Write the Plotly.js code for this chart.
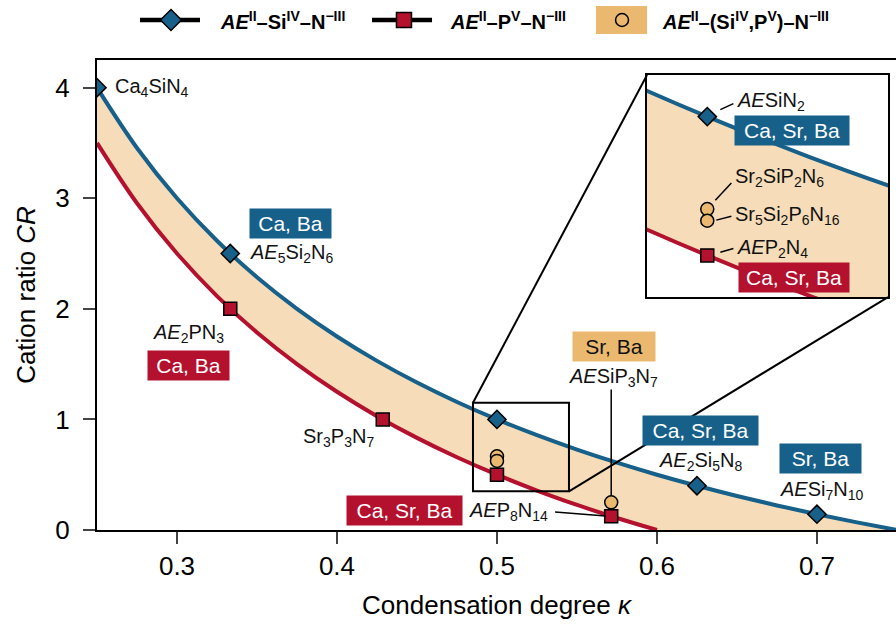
<!DOCTYPE html>
<html><head><meta charset="utf-8">
<script src="https://cdn.plot.ly/plotly-3.0.1.min.js"></script>
<style>html,body{margin:0;padding:0;background:#fff}</style>
</head><body><div id="chart" style="width:896px;height:626px"></div>
<script>
const kappaSi = [0.25,0.275,0.3,0.325,0.35,0.375,0.4,0.425,0.45,0.475,0.5,0.525,0.55,0.575,0.6,0.625,0.65,0.675,0.7,0.725,0.75];
const crSi    = [4,3.4545,3,2.6154,2.2857,2,1.75,1.5294,1.3333,1.1579,1,0.8571,0.7273,0.6087,0.5,0.4,0.3077,0.2222,0.1429,0.069,0];
const kappaP  = [0.25,0.275,0.3,0.325,0.35,0.375,0.4,0.425,0.45,0.475,0.5,0.525,0.55,0.575,0.6];
const crP     = [3.5,2.9545,2.5,2.1154,1.7857,1.5,1.25,1.0294,0.8333,0.6579,0.5,0.3571,0.2273,0.1087,0];

// Known compounds
const siK  = [0.25, 0.3333, 0.5, 0.625, 0.7];
const siCR = [4, 2.5, 1, 0.4, 0.1429];
const pK   = [0.3333, 0.4286, 0.5, 0.5714];
const pCR  = [2, 1, 0.5, 0.125];
const mixK  = [0.5, 0.5, 0.5714];
const mixCR = [0.6667, 0.625, 0.25];

const legendNames = [
  '<b><i>AE</i><sup>II</sup>–Si<sup>IV</sup>–N<sup>−III</sup></b>',
  '<b><i>AE</i><sup>II</sup>–P<sup>V</sup>–N<sup>−III</sup></b>',
  '<b><i>AE</i><sup>II</sup>–(Si<sup>IV</sup>,P<sup>V</sup>)–N<sup>−III</sup></b>'
];

const BLUE = '#16608a', RED = '#b3112e', BAND = '#f6dcb8', ORANGE = '#eab96f';
const FONT = 'Liberation Sans, Arial, sans-serif';
const XR = [0.25, 0.7494], YR = [0, 4.25];
const INSET_X = [0.485, 0.545], INSET_Y = [0.35, 1.15];
const INSET_DX = [0.6884, 0.99], INSET_DY = [0.4957, 0.9681];
const px = x => (x - XR[0]) / (XR[1] - XR[0]);
const py = y => (y - YR[0]) / (YR[1] - YR[0]);

function traces(xa, ya) {
  const base = {xaxis: xa, yaxis: ya, showlegend: false, hoverinfo: 'skip'};
  return [
    Object.assign({}, base, {x: kappaSi.concat(kappaP.slice().reverse()), y: crSi.concat(crP.slice().reverse()),
      mode: 'lines', fill: 'toself', fillcolor: BAND, line: {width: 0}}),
    Object.assign({}, base, {x: kappaSi, y: crSi, mode: 'lines', line: {color: BLUE, width: 4, shape: 'spline'}}),
    Object.assign({}, base, {x: kappaP, y: crP, mode: 'lines', line: {color: RED, width: 4, shape: 'spline'}}),
    Object.assign({}, base, {x: mixK, y: mixCR, mode: 'markers', marker: {symbol: 'circle', size: 13, color: ORANGE, line: {color: '#000', width: 1.5}}}),
    Object.assign({}, base, {x: pK, y: pCR, mode: 'markers', marker: {symbol: 'square', size: 13, color: RED, line: {color: '#000', width: 1.5}}}),
    Object.assign({}, base, {x: siK, y: siCR, mode: 'markers', marker: {symbol: 'diamond', size: 14, color: BLUE, line: {color: '#000', width: 1.5}}})
  ];
}
const data = traces('x', 'y').concat(traces('x2', 'y2'));

function label(x, y, text, ref, anchor) {
  return {x: x, y: y, xref: ref ? 'x2' : 'x', yref: ref ? 'y2' : 'y', text: text, showarrow: false,
    xanchor: anchor || 'center', yanchor: 'middle', font: {family: FONT, size: 20, color: '#111'}};
}
function box(x, y, text, color, w, ref) {
  return {x: x, y: y, xref: ref ? 'x2' : 'x', yref: ref ? 'y2' : 'y', text: text, showarrow: false,
    xanchor: 'center', yanchor: 'middle', bgcolor: color, borderpad: 2, width: w - 4, height: 25,
    font: {family: FONT, size: 21, color: color === ORANGE ? '#111' : '#fff'}};
}
const annotations = [
  label(0.26, 4.0, 'Ca<sub>4</sub>SiN<sub>4</sub>', false, 'left'),
  box(0.371, 2.77, 'Ca, Ba', BLUE, 81),
  label(0.372, 2.5, '<i>AE</i><sub>5</sub>Si<sub>2</sub>N<sub>6</sub>'),
  label(0.307, 1.78, '<i>AE</i><sub>2</sub>PN<sub>3</sub>'),
  box(0.307, 1.49, 'Ca, Ba', RED, 81),
  label(0.401, 0.84, 'Sr<sub>3</sub>P<sub>3</sub>N<sub>7</sub>'),
  box(0.442, 0.172, 'Ca, Sr, Ba', RED, 115),
  label(0.507, 0.163, '<i>AE</i>P<sub>8</sub>N<sub>14</sub>'),
  box(0.573, 1.656, 'Sr, Ba', ORANGE, 82),
  label(0.573, 1.376, '<i>AE</i>SiP<sub>3</sub>N<sub>7</sub>'),
  box(0.627, 0.896, 'Ca, Sr, Ba', BLUE, 115),
  label(0.6275, 0.615, '<i>AE</i><sub>2</sub>Si<sub>5</sub>N<sub>8</sub>'),
  box(0.7025, 0.643, 'Sr, Ba', BLUE, 81),
  label(0.703, 0.353, '<i>AE</i>Si<sub>7</sub>N<sub>10</sub>'),
  // inset
  label(0.507, 1.054, '<i>AE</i>SiN<sub>2</sub>', true, 'left'),
  box(0.521, 0.949, 'Ca, Sr, Ba', BLUE, 114, true),
  label(0.5065, 0.779, 'Sr<sub>2</sub>SiP<sub>2</sub>N<sub>6</sub>', true, 'left'),
  label(0.5065, 0.645, 'Sr<sub>5</sub>Si<sub>2</sub>P<sub>6</sub>N<sub>16</sub>', true, 'left'),
  label(0.507, 0.525, '<i>AE</i>P<sub>2</sub>N<sub>4</sub>', true, 'left'),
  box(0.5215, 0.42, 'Ca, Sr, Ba', RED, 110, true)
];
// legend texts
const LY = 1.0851;
[[0.1514, legendNames[0]], [0.4393, legendNames[1]], [0.7046, legendNames[2]]].forEach(function (p) {
  annotations.push({x: p[0], y: LY, xref: 'paper', yref: 'paper', text: p[1], showarrow: false,
    xanchor: 'left', yanchor: 'middle', font: {family: FONT, size: 20, color: '#000'}});
});

const K = {color: '#000', width: 1.5};
function seg(x0, y0, x1, y1, ref, w) {
  return {type: 'line', xref: ref, yref: ref === 'paper' ? 'paper' : ref.replace('x', 'y'), x0: x0, y0: y0, x1: x1, y1: y1,
    line: {color: '#000', width: w || 1.5}};
}
const shapes = [
  {type: 'rect', xref: 'x', yref: 'y', x0: INSET_X[0], x1: INSET_X[1], y0: INSET_Y[0], y1: INSET_Y[1], line: {color: '#000', width: 2}},
  seg(px(INSET_X[0]), py(INSET_Y[1]), INSET_DX[0], INSET_DY[1], 'paper', 2),
  seg(px(INSET_X[1]), py(INSET_Y[0]), INSET_DX[1], INSET_DY[0], 'paper', 2),
  seg(0.5363, 0.163, pK[3] - 0.0035, 0.127, 'x'),
  seg(mixK[2], 1.27, mixK[2], mixCR[2] + 0.06, 'x'),
  seg(0.50325, 1.025, 0.5065, 1.047, 'x2'),
  seg(0.502, 0.699, 0.506, 0.761, 'x2'),
  seg(0.50225, 0.627, 0.506, 0.641, 'x2'),
  seg(0.50325, 0.511, 0.5065, 0.525, 'x2'),
  // legend graphics
  seg(0.0538, LY, 0.1289, LY, 'paper', 4.5),
  seg(0.3442, LY, 0.4193, LY, 'paper', 4.5),
  {type: 'path', xref: 'paper', yref: 'paper', fillcolor: BLUE, line: K,
   path: 'M0.0926,' + (LY + 0.0223) + ' L' + (0.0926 + 0.0131) + ',' + LY + ' L0.0926,' + (LY - 0.0223) + ' L' + (0.0926 - 0.0131) + ',' + LY + ' Z'},
  {type: 'rect', xref: 'paper', yref: 'paper', fillcolor: RED, line: K, x0: 0.3842 - 0.0094, x1: 0.3842 + 0.0094, y0: LY - 0.016, y1: LY + 0.016},
  {type: 'rect', xref: 'paper', yref: 'paper', fillcolor: ORANGE, line: {width: 0}, x0: 0.6245, x1: 0.6884, y0: 1.0553, y1: 1.1149},
  {type: 'circle', xref: 'paper', yref: 'paper', fillcolor: ORANGE, line: K, x0: 0.6571 - 0.0081, x1: 0.6571 + 0.0081, y0: LY - 0.0138, y1: LY + 0.0138}
];

const axBase = {showgrid: false, zeroline: false, showline: true, linecolor: '#000', linewidth: 2};
const layout = {
  width: 896, height: 626, margin: {l: 97, r: 0, t: 60, b: 96},
  paper_bgcolor: '#fff', plot_bgcolor: '#fff', showlegend: false,
  font: {family: FONT, color: '#000'},
  xaxis: Object.assign({}, axBase, {range: XR, domain: [0, 1], mirror: true, ticks: 'outside', ticklen: 12, tickwidth: 2,
    tickvals: [0.3, 0.4, 0.5, 0.6, 0.7], ticktext: ['0.3', '0.4', '0.5', '0.6', '0.7'], tickfont: {size: 26}, ticklabelstandoff: 0,
    title: {text: 'Condensation degree <i>κ</i>', font: {size: 26}, standoff: 16}}),
  yaxis: Object.assign({}, axBase, {range: YR, domain: [0, 1], mirror: false, ticks: 'outside', ticklen: 12, tickwidth: 2,
    tickvals: [0, 1, 2, 3, 4], tickfont: {size: 26}, ticklabelstandoff: 8,
    title: {text: 'Cation ratio <i>CR</i>', font: {size: 26}, standoff: 12}}),
  xaxis2: Object.assign({}, axBase, {range: INSET_X, domain: INSET_DX, anchor: 'y2', mirror: true, showticklabels: false, ticks: ''}),
  yaxis2: Object.assign({}, axBase, {range: INSET_Y, domain: INSET_DY, anchor: 'x2', mirror: true, showticklabels: false, ticks: ''}),
  annotations: annotations, shapes: shapes
};
Plotly.newPlot('chart', data, layout, {displayModeBar: false, staticPlot: true});
</script></body></html>
